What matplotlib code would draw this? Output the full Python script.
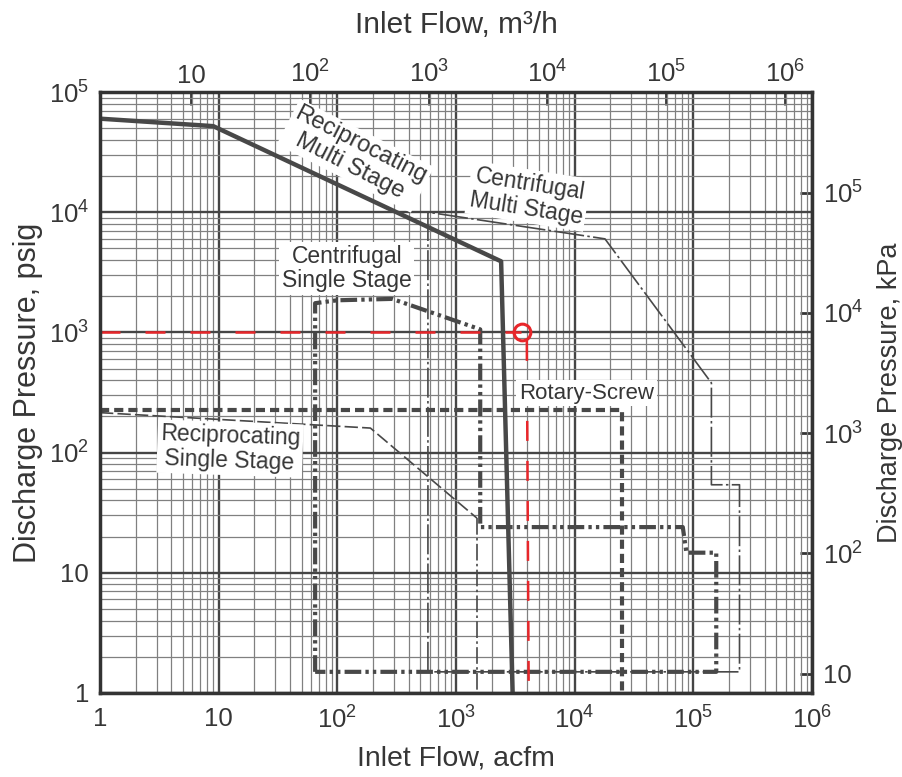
import matplotlib
matplotlib.use("Agg")
from matplotlib import pyplot as plt
from matplotlib.ticker import FixedLocator, FixedFormatter, NullLocator
import numpy as np

plt.rcParams['font.family'] = ['Liberation Sans', 'DejaVu Sans']
plt.rcParams['mathtext.fontset'] = 'custom'
plt.rcParams['mathtext.rm'] = 'Liberation Sans'
plt.rcParams['mathtext.it'] = 'Liberation Sans:italic'
plt.rcParams['mathtext.bf'] = 'Liberation Sans:bold'

TXT = '#363636'
LINE = '#484848'

# 数据（acfm, psig）
recip_multi_x = [1, 9, 2400, 3000]
recip_multi_y = [60000, 52000, 3900, 1]

cent_multi_x = [580, 580, 18000, 142000, 142000, 245000, 245000, 580]
cent_multi_y = [1.5, 10000, 6000, 380, 54, 54, 1.5, 1.5]

cent_single_x = [65, 65, 100, 290, 1600, 1600, 81500, 87500, 156000, 156000, 65]
cent_single_y = [1.5, 1750, 1850, 1900, 1060, 24, 24, 14.7, 14.7, 1.5, 1.5]

recip_single_x = [1, 190, 1500]
recip_single_y = [215, 160, 28.5]
recip_single_drop_x = [1500, 1500]
recip_single_drop_y = [28.5, 1]

rotary_x = [1, 25000, 25000]
rotary_y = [225, 225, 1]

# 手绘红色标注
red_h_x = [1, 3500]
red_h_y = [1000, 1000]
red_v_x = [3950, 4100]
red_v_y = [850, 1]
red_mark = (3600, 1000)

x_ticks = [1, 10, 1e2, 1e3, 1e4, 1e5, 1e6]
x_labels = ['1', '10', r'$\mathregular{10^2}$', r'$\mathregular{10^3}$',
            r'$\mathregular{10^4}$', r'$\mathregular{10^5}$', r'$\mathregular{10^6}$']
y_ticks = [1, 10, 1e2, 1e3, 1e4, 1e5]
y_labels = ['1', '10', r'$\mathregular{10^2}$', r'$\mathregular{10^3}$',
            r'$\mathregular{10^4}$', r'$\mathregular{10^5}$']
top_ticks = [10, 1e2, 1e3, 1e4, 1e5, 1e6]
top_labels = x_labels[1:]
right_ticks = [10, 1e2, 1e3, 1e4, 1e5]
right_labels = y_labels[1:]

ACFM_TO_M3H = 1.699
PSI_TO_KPA = 6.895

fig = plt.figure(figsize=(9.02, 7.77), dpi=100)
ax = fig.add_axes([100 / 902, 84 / 777, 712 / 902, 601 / 777])
ax.set_xscale('log')
ax.set_yscale('log')
ax.set_xlim(1, 1e6)
ax.set_ylim(1, 1e5)

ax.xaxis.set_major_locator(FixedLocator(x_ticks))
ax.xaxis.set_major_formatter(FixedFormatter(x_labels))
ax.yaxis.set_major_locator(FixedLocator(y_ticks))
ax.yaxis.set_major_formatter(FixedFormatter(y_labels))
subs = [k * 10.0 ** e for e in range(0, 7) for k in range(2, 10)]
ax.xaxis.set_minor_locator(FixedLocator(subs))
ax.yaxis.set_minor_locator(FixedLocator(subs))
ax.xaxis.set_minor_formatter(FixedFormatter([]))
ax.yaxis.set_minor_formatter(FixedFormatter([]))

ax.grid(which='major', color='#454545', lw=1.7)
ax.grid(which='minor', color='#808080', lw=0.9)
ax.set_axisbelow(True)
ax.tick_params(which='both', length=0, labelsize=18.5, labelcolor=TXT)
ax.tick_params(axis='x', pad=10)
ax.tick_params(axis='y', pad=8)
for sp in ax.spines.values():
    sp.set_linewidth(2.5)
    sp.set_color('#333333')

# 曲线
ax.plot(recip_multi_x, recip_multi_y, color=LINE, lw=3.2, solid_capstyle='butt')
ax.plot(cent_multi_x, cent_multi_y, color=LINE, lw=1.2, dashes=(18, 2, 1.5, 2))
ax.plot(cent_single_x, cent_single_y, color=LINE, lw=3.0, dashes=(4, 1, 0.8, 1, 0.8, 1))
ax.plot(recip_single_x, recip_single_y, color=LINE, lw=1.2, dashes=(8, 2.5))
ax.plot(recip_single_drop_x, recip_single_drop_y, color=LINE, lw=1.2, dashes=(10, 2, 1.5, 2))
ax.plot(rotary_x, rotary_y, color=LINE, lw=3.0, dashes=(2.2, 1.2))

# 红色标注
ax.plot(red_h_x, red_h_y, color='#e8262a', lw=1.8, dashes=(8, 10))
ax.plot(red_v_x, red_v_y, color='#e8262a', lw=1.8, dashes=(8, 8))
ax.plot(*red_mark, marker='o', ms=12, mfc='none', mec='#e8262a', mew=2.2)

box = dict(facecolor='white', edgecolor='none', pad=2)
ax.text(142, 29500, 'Reciprocating\nMulti Stage', rotation=-27, ha='center', va='center',
        fontsize=17, color=TXT, bbox=box, linespacing=1.1, rotation_mode='anchor')
ax.text(4035, 13600, 'Centrifugal\nMulti Stage', rotation=-9, ha='center', va='center',
        fontsize=16.5, color=TXT, bbox=box, linespacing=1.1, rotation_mode='anchor')
ax.text(120, 3400, 'Centrifugal\nSingle Stage', ha='center', va='center',
        fontsize=16.5, color=TXT, bbox=box, linespacing=1.1)
ax.text(12600, 312, 'Rotary-Screw', ha='center', va='center',
        fontsize=16, color=TXT, bbox=box)
ax.text(12.45, 108, 'Reciprocating\nSingle Stage', rotation=-2, ha='center', va='center',
        fontsize=16.5, color=TXT, bbox=box, linespacing=1.1, rotation_mode='anchor')

ax.set_xlabel('Inlet Flow, acfm', fontsize=20.5, color=TXT, labelpad=8)
ax.set_ylabel('Discharge Pressure, psig', fontsize=22, color=TXT, labelpad=4)

# 次坐标轴
top = ax.secondary_xaxis('top', functions=(lambda x: x * ACFM_TO_M3H, lambda x: x / ACFM_TO_M3H))
top.xaxis.set_major_locator(FixedLocator(top_ticks))
top.xaxis.set_major_formatter(FixedFormatter(top_labels))
top.xaxis.set_minor_locator(NullLocator())
top.tick_params(direction='in', length=9, width=2, color='#333333', labelsize=18.5,
                labelcolor=TXT, pad=3)
top.set_xlabel('Inlet Flow, m³/h', fontsize=21.5, color=TXT, labelpad=20)

right = ax.secondary_yaxis('right', functions=(lambda y: y * PSI_TO_KPA, lambda y: y / PSI_TO_KPA))
right.yaxis.set_major_locator(FixedLocator(right_ticks))
right.yaxis.set_major_formatter(FixedFormatter(right_labels))
right.yaxis.set_minor_locator(NullLocator())
right.tick_params(direction='in', length=9, width=2, color='#333333', labelsize=18.5,
                  labelcolor=TXT, pad=8)
right.set_ylabel('Discharge Pressure, kPa', fontsize=19.5, color=TXT, labelpad=10)

plt.savefig('out.png', dpi=100)
plt.close()
